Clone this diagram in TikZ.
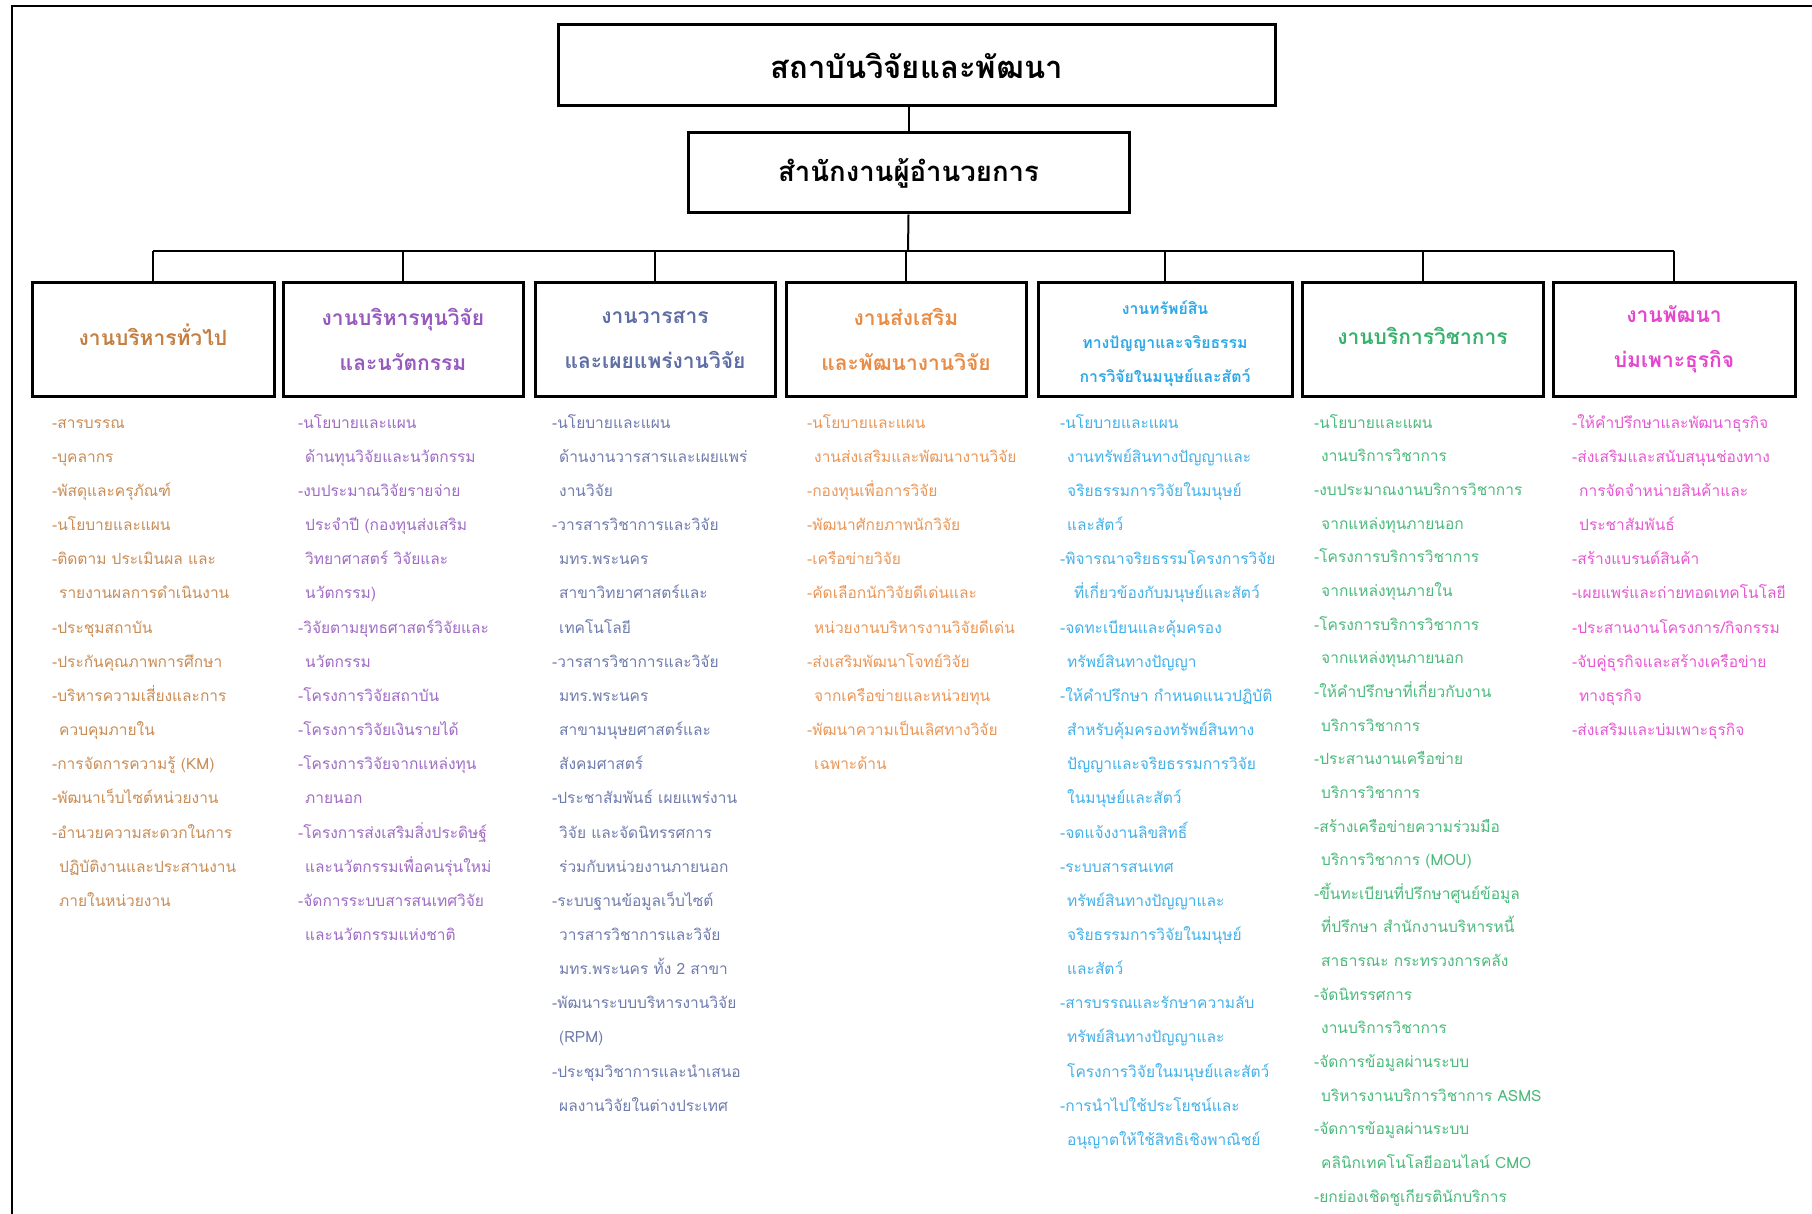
\documentclass[tikz,border=0pt]{standalone}
\usepackage{fontspec}
\newfontfamily\thai[Script=Thai]{Loma}
\newcommand\ind{\hspace*{7pt}}
\newcommand\fl{\rule{0pt}{20pt}}
\definecolor{c1}{RGB}{196,128,66}
\definecolor{c2}{RGB}{150,90,190}
\definecolor{c3}{RGB}{95,110,165}
\definecolor{c4}{RGB}{232,140,70}
\definecolor{c5}{RGB}{45,168,232}
\definecolor{c6}{RGB}{55,178,108}
\definecolor{c7}{RGB}{228,70,205}
\tikzset{
  mainbox/.style={draw, line width=3pt, inner sep=0pt},
  maintitle/.style={inner sep=0pt, font=\thai\bfseries\fontsize{31}{36}\selectfont},
  dept/.style={draw, line width=3pt, inner sep=0pt, minimum height=113pt},
  depttitle/.style={inner sep=0pt, align=center, font=\thai\bfseries\fontsize{21}{45}\selectfont},
  items/.style={anchor=north west, inner sep=0pt, align=left,
    font=\thai\fontsize{15.5}{34.15}\selectfont},
  link/.style={line width=2pt}
}
\begin{document}
\begin{tikzpicture}[x=1pt,y=-1pt]
\useasboundingbox (0,0) rectangle (1812,1214);
\fill[white] (0,0) rectangle (1812,1214);
\draw[line width=2.5pt] (12,1230) -- (12,6) -- (1830,6);

\node[mainbox, minimum width=717pt, minimum height=81pt] (top) at (916.5,65.5) {};
\node[maintitle] (toptitle) at (top.center) {สถาบันวิจัยและพัฒนา};
\node[mainbox, minimum width=441pt, minimum height=80pt] (mid) at (908.5,173) {};
\node[maintitle, font=\thai\bfseries\fontsize{27.5}{34}\selectfont] (midtitle) at (mid.center) {สำนักงานผู้อำนวยการ};

\node[dept, minimum width=242pt] (b1) at (153,339.5) {};
\node[dept, minimum width=240pt] (b2) at (403,339.5) {};
\node[dept, minimum width=240pt] (b3) at (655,339.5) {};
\node[dept, minimum width=240pt] (b4) at (906,339.5) {};
\node[dept, minimum width=254pt] (b5) at (1165,339.5) {};
\node[dept, minimum width=241pt] (b6) at (1422.5,339.5) {};
\node[dept, minimum width=242pt] (b7) at (1674,339.5) {};

\node[depttitle, text=c1] (t1) at ([yshift=4.5pt]b1.center) {งานบริหารทั่วไป};
\node[depttitle, text=c2] (t2) at (b2.center) {งานบริหารทุนวิจัย\\และนวัตกรรม};
\node[depttitle, text=c3] (t3) at (b3.center) {งานวารสาร\\และเผยแพร่งานวิจัย};
\node[depttitle, text=c4] (t4) at (b4.center) {งานส่งเสริม\\และพัฒนางานวิจัย};
\node[depttitle, text=c5, font=\thai\bfseries\fontsize{15.8}{34}\selectfont] (t5) at ([yshift=-4.5pt]b5.center) {งานทรัพย์สิน\\ทางปัญญาและจริยธรรม\\การวิจัยในมนุษย์และสัตว์};
\node[depttitle, text=c6] (t6) at ([yshift=3.5pt]b6.center) {งานบริการวิชาการ};
\node[depttitle, text=c7] (t7) at (b7.center) {งานพัฒนา\\บ่มเพาะธุรกิจ};

\coordinate (bus) at (908,251);
\draw[link] (mid.north) -- (mid.north |- top.south);
\draw[link] (mid.south) -- (bus);
\draw[link] (b1.north |- bus) -- (b7.north |- bus);
\foreach \i in {1,...,7} \draw[link] (b\i.north) -- (b\i.north |- bus);

\node[items, text=c1!90] (l1) at (52,408) {\fl-สารบรรณ\\
-บุคลากร\\
-พัสดุและครุภัณฑ์\\
-นโยบายและแผน\\
-ติดตาม ประเมินผล และ\\
\ind รายงานผลการดำเนินงาน\\
-ประชุมสถาบัน\\
-ประกันคุณภาพการศึกษา\\
-บริหารความเสี่ยงและการ\\
\ind ควบคุมภายใน\\
-การจัดการความรู้ (KM)\\
-พัฒนาเว็บไซต์หน่วยงาน\\
-อำนวยความสะดวกในการ\\
\ind ปฏิบัติงานและประสานงาน\\
\ind ภายในหน่วยงาน};

\node[items, text=c2!90] (l2) at (298,408) {\fl-นโยบายและแผน\\
\ind ด้านทุนวิจัยและนวัตกรรม\\
-งบประมาณวิจัยรายจ่าย\\
\ind ประจำปี (กองทุนส่งเสริม\\
\ind วิทยาศาสตร์ วิจัยและ\\
\ind นวัตกรรม)\\
-วิจัยตามยุทธศาสตร์วิจัยและ\\
\ind นวัตกรรม\\
-โครงการวิจัยสถาบัน\\
-โครงการวิจัยเงินรายได้\\
-โครงการวิจัยจากแหล่งทุน\\
\ind ภายนอก\\
-โครงการส่งเสริมสิ่งประดิษฐ์\\
\ind และนวัตกรรมเพื่อคนรุ่นใหม่\\
-จัดการระบบสารสนเทศวิจัย\\
\ind และนวัตกรรมแห่งชาติ};

\node[items, text=c3!90] (l3) at (552,408) {\fl-นโยบายและแผน\\
\ind ด้านงานวารสารและเผยแพร่\\
\ind งานวิจัย\\
-วารสารวิชาการและวิจัย\\
\ind มทร.พระนคร\\
\ind สาขาวิทยาศาสตร์และ\\
\ind เทคโนโลยี\\
-วารสารวิชาการและวิจัย\\
\ind มทร.พระนคร\\
\ind สาขามนุษยศาสตร์และ\\
\ind สังคมศาสตร์\\
-ประชาสัมพันธ์ เผยแพร่งาน\\
\ind วิจัย และจัดนิทรรศการ\\
\ind ร่วมกับหน่วยงานภายนอก\\
-ระบบฐานข้อมูลเว็บไซต์\\
\ind วารสารวิชาการและวิจัย\\
\ind มทร.พระนคร ทั้ง 2 สาขา\\
-พัฒนาระบบบริหารงานวิจัย\\
\ind (RPM)\\
-ประชุมวิชาการและนำเสนอ\\
\ind ผลงานวิจัยในต่างประเทศ};

\node[items, text=c4!90] (l4) at (807,408) {\fl-นโยบายและแผน\\
\ind งานส่งเสริมและพัฒนางานวิจัย\\
-กองทุนเพื่อการวิจัย\\
-พัฒนาศักยภาพนักวิจัย\\
-เครือข่ายวิจัย\\
-คัดเลือกนักวิจัยดีเด่นและ\\
\ind หน่วยงานบริหารงานวิจัยดีเด่น\\
-ส่งเสริมพัฒนาโจทย์วิจัย\\
\ind จากเครือข่ายและหน่วยทุน\\
-พัฒนาความเป็นเลิศทางวิจัย\\
\ind เฉพาะด้าน};

\node[items, text=c5!90] (l5) at (1060,408) {\fl-นโยบายและแผน\\
\ind งานทรัพย์สินทางปัญญาและ\\
\ind จริยธรรมการวิจัยในมนุษย์\\
\ind และสัตว์\\
-พิจารณาจริยธรรมโครงการวิจัย\\
\ind\ind ที่เกี่ยวข้องกับมนุษย์และสัตว์\\
-จดทะเบียนและคุ้มครอง\\
\ind ทรัพย์สินทางปัญญา\\
-ให้คำปรึกษา กำหนดแนวปฏิบัติ\\
\ind สำหรับคุ้มครองทรัพย์สินทาง\\
\ind ปัญญาและจริยธรรมการวิจัย\\
\ind ในมนุษย์และสัตว์\\
-จดแจ้งงานลิขสิทธิ์\\
-ระบบสารสนเทศ\\
\ind ทรัพย์สินทางปัญญาและ\\
\ind จริยธรรมการวิจัยในมนุษย์\\
\ind และสัตว์\\
-สารบรรณและรักษาความลับ\\
\ind ทรัพย์สินทางปัญญาและ\\
\ind โครงการวิจัยในมนุษย์และสัตว์\\
-การนำไปใช้ประโยชน์และ\\
\ind อนุญาตให้ใช้สิทธิเชิงพาณิชย์};

\node[items, text=c6!90, font=\thai\fontsize{15.5}{33.65}\selectfont] (l6) at (1314,408) {\fl-นโยบายและแผน\\
\ind งานบริการวิชาการ\\
-งบประมาณงานบริการวิชาการ\\
\ind จากแหล่งทุนภายนอก\\
-โครงการบริการวิชาการ\\
\ind จากแหล่งทุนภายใน\\
-โครงการบริการวิชาการ\\
\ind จากแหล่งทุนภายนอก\\
-ให้คำปรึกษาที่เกี่ยวกับงาน\\
\ind บริการวิชาการ\\
-ประสานงานเครือข่าย\\
\ind บริการวิชาการ\\
-สร้างเครือข่ายความร่วมมือ\\
\ind บริการวิชาการ (MOU)\\
-ขึ้นทะเบียนที่ปรึกษาศูนย์ข้อมูล\\
\ind ที่ปรึกษา สำนักงานบริหารหนี้\\
\ind สาธารณะ กระทรวงการคลัง\\
-จัดนิทรรศการ\\
\ind งานบริการวิชาการ\\
-จัดการข้อมูลผ่านระบบ\\
\ind บริหารงานบริการวิชาการ ASMS\\
-จัดการข้อมูลผ่านระบบ\\
\ind คลินิกเทคโนโลยีออนไลน์ CMO\\
-ยกย่องเชิดชูเกียรตินักบริการ};

\node[items, text=c7!90] (l7) at (1572,408) {\fl-ให้คำปรึกษาและพัฒนาธุรกิจ\\
-ส่งเสริมและสนับสนุนช่องทาง\\
\ind การจัดจำหน่ายสินค้าและ\\
\ind ประชาสัมพันธ์\\
-สร้างแบรนด์สินค้า\\
-เผยแพร่และถ่ายทอดเทคโนโลยี\\
-ประสานงานโครงการ/กิจกรรม\\
-จับคู่ธุรกิจและสร้างเครือข่าย\\
\ind ทางธุรกิจ\\
-ส่งเสริมและบ่มเพาะธุรกิจ};
\end{tikzpicture}
\end{document}
